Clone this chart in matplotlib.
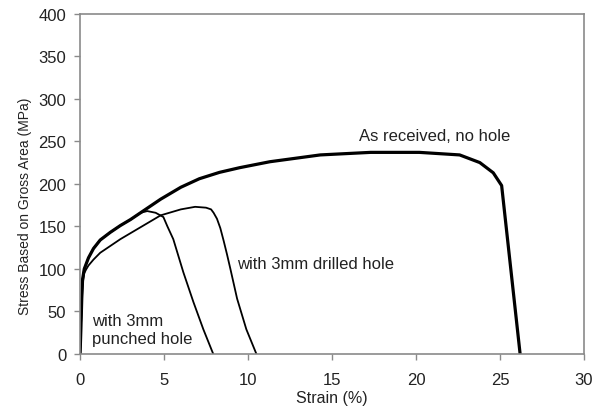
import numpy as np
import matplotlib.pyplot as plt

plt.rcParams['font.family'] = ['Liberation Sans', 'DejaVu Sans']

# as received, no hole
strain_none = [0, 0.05, 0.1, 0.15, 0.25, 0.5, 0.8, 1.2, 1.8, 2.4, 3.0, 3.6, 4.8, 6.0, 7.1, 8.3, 9.5,
               11.3, 14.3, 17.3, 20.2, 22.6, 23.8, 24.6, 25.1, 25.6, 26.2]
stress_none = [0, 30, 65, 88, 100, 113, 124, 134, 143, 151, 158, 166, 182, 196, 206, 213.5, 219,
               226, 234, 237, 237, 234, 225, 213, 198, 108, 0]

# with 3mm drilled hole
strain_drill = [0, 0.05, 0.1, 0.15, 0.25, 0.35, 0.5, 0.8, 1.2, 1.8, 2.4, 3.6, 4.8, 6.0, 6.85, 7.5, 7.8,
                7.95, 8.15, 8.35, 8.55, 8.75, 8.95, 9.35, 9.9, 10.5]
stress_drill = [0, 30, 60, 82, 95, 99, 104, 111, 119, 127, 135, 149, 163, 170, 173, 172, 170,
                166, 159, 148, 133, 117, 100, 65, 29, 0]

# with 3mm punched hole
strain_punch = [0, 0.05, 0.1, 0.15, 0.25, 0.5, 0.8, 1.2, 1.8, 2.4, 3.0, 3.6, 4.0, 4.5, 4.96, 5.2,
                5.55, 6.15, 6.75, 7.34, 7.93]
stress_punch = [0, 30, 65, 88, 100, 113, 124, 134, 143, 151, 158, 166, 168, 166, 161, 150,
                135, 96, 61, 29, 0]

fig = plt.figure(figsize=(6.02, 4.14), dpi=100)
ax = fig.add_axes([0.133, 0.1425, 0.837, 0.822])

ax.plot(strain_none, stress_none, color='black', lw=2.3)
ax.plot(strain_drill, stress_drill, color='black', lw=1.3)
ax.plot(strain_punch, stress_punch, color='black', lw=1.3)

ax.set_xlim(0, 30)
ax.set_ylim(0, 400)
ax.set_xticks(np.arange(0, 31, 5))
ax.set_yticks(np.arange(0, 401, 50))
for s in ax.spines.values():
    s.set_color('#8a8a8a')
    s.set_linewidth(1.2)
ax.tick_params(colors='#8a8a8a', labelcolor='#222222', labelsize=12, length=4, width=1)
ax.tick_params(axis='x', pad=9)
ax.tick_params(axis='y', pad=6)

ax.set_xlabel('Strain (%)', fontsize=11.5, color='#222222', labelpad=2)
ax.set_ylabel('Stress Based on Gross Area (MPa)', fontsize=10, color='#222222')
ax.yaxis.set_label_coords(-0.095, 0.438)

ax.text(21.1, 257, 'As received, no hole', fontsize=12, color='#222222', ha='center', va='center')
ax.text(9.35, 106, 'with 3mm drilled hole', fontsize=12, color='#222222', ha='left', va='center')
ax.text(0.7, 29, 'with 3mm\npunched hole', fontsize=12, color='#222222', ha='left', va='center',
        linespacing=1.2)

fig.savefig('out.png', dpi=100)
